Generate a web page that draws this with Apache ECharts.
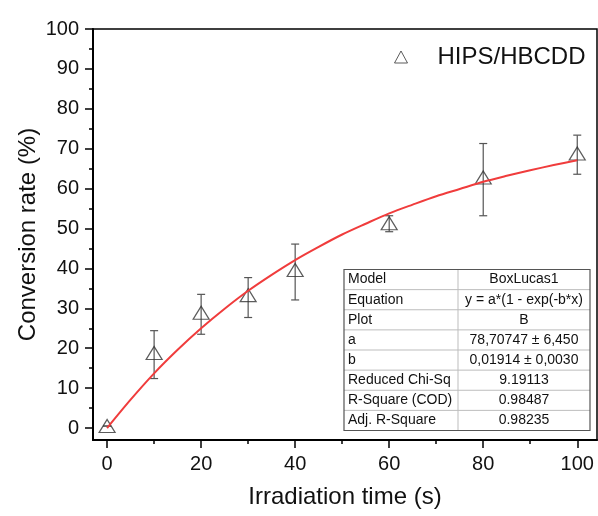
<!DOCTYPE html>
<html>
<head>
<meta charset="UTF-8">
<title>Conversion rate</title>
<script src="https://cdn.jsdelivr.net/npm/echarts@6/dist/echarts.min.js"></script>
<style>
  html, body { margin: 0; padding: 0; background: #fff; }
  #chart { width: 598px; height: 516px; }
</style>
</head>
<body>
<div id="chart"></div>
<script>
// measured points (x = irradiation time, y = conversion %)
var times = [0, 10, 20, 30, 40, 60, 80, 100];
var conv = [0.5, 18.8, 28.9, 33.3, 39.6, 51.3, 62.8, 68.8];
var errLow = [0.5, 12.4, 23.5, 27.7, 32.1, 49.2, 53.2, 63.6];
var errHigh = [0.5, 24.4, 33.5, 37.7, 46.1, 53.2, 71.3, 73.4];

// fitted curve
var fitX = [0, 5, 10, 15, 20, 25, 30, 35, 40, 45, 50, 55, 60, 65, 70, 75, 80, 85, 90, 95, 100];
var fitY = [0, 7.1, 13.7, 19.6, 25.0, 29.9, 34.4, 38.4, 42.1, 45.4, 48.5, 51.2, 53.8, 56.0, 58.1, 59.9, 61.7, 63.2, 64.6, 65.9, 67.1];

var xMajor = [0, 20, 40, 60, 80, 100];
var xMinor = [10, 30, 50, 70, 90];
var yMajor = [0, 10, 20, 30, 40, 50, 60, 70, 80, 90, 100];
var yMinor = [5, 15, 25, 35, 45, 55, 65, 75, 85, 95];

var tableLabels = ['Model', 'Equation', 'Plot', 'a', 'b', 'Reduced Chi-Sq', 'R-Square (COD)', 'Adj. R-Square'];
var tableValues = ['BoxLucas1', 'y = a*(1 - exp(-b*x)', 'B', '78,70747 \u00b1 6,450', '0,01914 \u00b1 0,0030', '9.19113', '0.98487', '0.98235'];

var FONT = 'Liberation Sans, Arial, sans-serif';

var chart = echarts.init(document.getElementById('chart'), null, {renderer: 'canvas'});

// table as graphic elements
var tbl = {x: 344, y: 269.5, w: 246, h: 161, split: 458};
var rowH = tbl.h / tableLabels.length;
var graphics = [];
graphics.push({type: 'rect', shape: {x: tbl.x, y: tbl.y, width: tbl.w, height: tbl.h},
  style: {fill: '#fff', stroke: 'none'}, z: 100});
for (var i = 1; i < tableLabels.length; i++) {
  graphics.push({type: 'line', shape: {x1: tbl.x, y1: tbl.y + i * rowH, x2: tbl.x + tbl.w, y2: tbl.y + i * rowH},
    style: {stroke: '#bdbdbd', lineWidth: 1}, z: 101});
}
graphics.push({type: 'line', shape: {x1: tbl.split, y1: tbl.y, x2: tbl.split, y2: tbl.y + tbl.h},
  style: {stroke: '#bdbdbd', lineWidth: 1}, z: 101});
graphics.push({type: 'rect', shape: {x: tbl.x, y: tbl.y, width: tbl.w, height: tbl.h},
  style: {fill: 'none', stroke: '#555', lineWidth: 1.2}, z: 102});
tableLabels.forEach(function (t, i) {
  graphics.push({type: 'text', x: tbl.x + 4, y: tbl.y + (i + 0.5) * rowH, z: 103,
    style: {text: t, font: '14px ' + FONT, fill: '#111', align: 'left', verticalAlign: 'middle'}});
  graphics.push({type: 'text', x: (tbl.split + tbl.x + tbl.w) / 2, y: tbl.y + (i + 0.5) * rowH, z: 103,
    style: {text: tableValues[i], font: '14px ' + FONT, fill: '#111', align: 'center', verticalAlign: 'middle'}});
});

var errData = times.map(function (t, i) { return [t, errLow[i], errHigh[i]]; });

var option = {
  backgroundColor: '#fff',
  animation: false,
  grid: {left: 93, right: 1, top: 29, bottom: 76, show: true, borderColor: '#000', borderWidth: 1.5},
  legend: {
    data: ['HIPS/HBCDD'],
    left: 389, top: 40,
    itemWidth: 13, itemHeight: 12,
    icon: 'triangle',
    itemStyle: {color: 'transparent', borderColor: '#333', borderWidth: 1},
    textStyle: {fontFamily: FONT, fontSize: 24, color: '#111', padding: [0, 0, 0, 25]}
  },
  xAxis: [{
    type: 'value', min: -3, max: 104.2,
    axisLine: {show: true, onZero: false, lineStyle: {color: '#000', width: 2}},
    axisTick: {show: true, inside: false, length: 8, lineStyle: {color: '#000', width: 1.5}, customValues: xMajor},
    axisLabel: {fontFamily: FONT, fontSize: 20, color: '#111', margin: 14, customValues: xMajor},
    splitLine: {show: false},
    name: 'Irradiation time (s)', nameLocation: 'middle', nameGap: 45, nameMoveOverlap: false,
    nameTextStyle: {fontFamily: FONT, fontSize: 24, color: '#111'}
  }, {
    type: 'value', min: -3, max: 104.2, position: 'bottom',
    axisLine: {show: false, onZero: false},
    axisTick: {show: true, inside: false, length: 4, lineStyle: {color: '#000', width: 1.5}, customValues: xMinor},
    axisLabel: {show: false},
    splitLine: {show: false}
  }],
  yAxis: [{
    type: 'value', min: -3, max: 100,
    axisLine: {show: true, onZero: false, lineStyle: {color: '#000', width: 2}},
    axisTick: {show: true, inside: false, length: 8, lineStyle: {color: '#000', width: 1.5}, customValues: yMajor},
    axisLabel: {fontFamily: FONT, fontSize: 20, color: '#111', margin: 14, customValues: yMajor},
    splitLine: {show: false},
    name: 'Conversion rate (%)', nameLocation: 'middle', nameGap: 53, nameMoveOverlap: false,
    nameTextStyle: {fontFamily: FONT, fontSize: 24, color: '#111'}
  }, {
    type: 'value', min: -3, max: 100, position: 'left',
    axisLine: {show: false, onZero: false},
    axisTick: {show: true, inside: false, length: 4, lineStyle: {color: '#000', width: 1.5}, customValues: yMinor},
    axisLabel: {show: false},
    splitLine: {show: false}
  }],
  series: [{
    name: 'error', type: 'custom', silent: true, z: 3,
    data: errData,
    renderItem: function (params, api) {
      var x = api.value(0);
      var lo = api.coord([x, api.value(1)]);
      var hi = api.coord([x, api.value(2)]);
      var cap = 4;
      var st = {stroke: '#555', lineWidth: 1.2};
      return {type: 'group', children: [
        {type: 'line', shape: {x1: lo[0], y1: lo[1], x2: hi[0], y2: hi[1]}, style: st},
        {type: 'line', shape: {x1: hi[0] - cap, y1: hi[1], x2: hi[0] + cap, y2: hi[1]}, style: st},
        {type: 'line', shape: {x1: lo[0] - cap, y1: lo[1], x2: lo[0] + cap, y2: lo[1]}, style: st}
      ]};
    }
  }, {
    name: 'HIPS/HBCDD', type: 'scatter', z: 4,
    symbol: 'triangle', symbolSize: [16, 13],
    itemStyle: {color: 'transparent', borderColor: '#333', borderWidth: 1.2},
    data: times.map(function (t, i) { return [t, conv[i]]; })
  }, {
    name: 'fit', type: 'line', z: 5, smooth: 0.3, showSymbol: false, silent: true,
    lineStyle: {color: '#f03c3c', width: 2},
    data: fitX.map(function (t, i) { return [t, fitY[i]]; })
  }],
  graphic: graphics
};

chart.setOption(option);
</script>
</body>
</html>
